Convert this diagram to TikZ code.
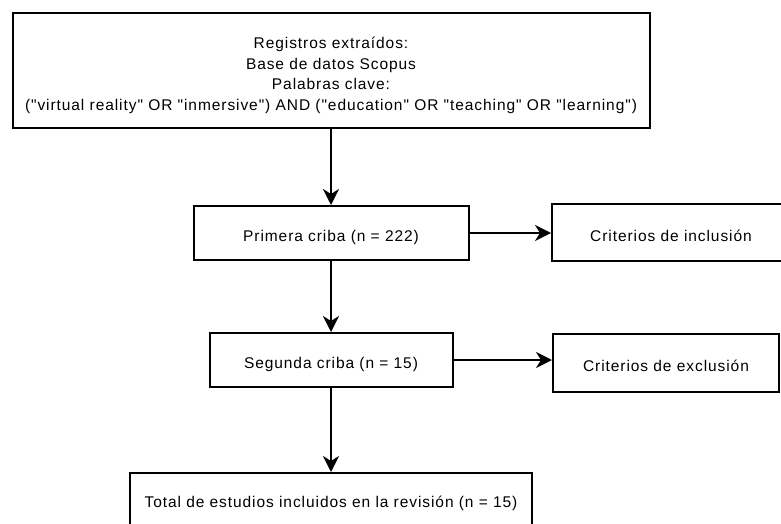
\documentclass[tikz,border=0pt]{standalone}
\usepackage{fontspec}
\setmainfont[LetterSpace=6,Ligatures=TeXOff]{Liberation Sans}
\usetikzlibrary{arrows.meta}
\begin{document}
\begin{tikzpicture}[x=1pt,y=-1pt,
    caja/.style={draw,line width=2pt,inner sep=0pt,align=center,
        font=\fontsize{15.5}{20.5}\selectfont},
    simple/.style={caja,text height=20pt,text depth=3pt},
    flecha/.style={line width=2pt,-{Stealth[length=16pt,width=16pt,inset=5pt]}}]
\clip (0,0) rectangle (781,524);
\node[caja,minimum width=637pt,minimum height=115pt] (registros) at (331,70.5)
    {\rule{0pt}{21pt}Registros extraídos:\\Base de datos Scopus\\Palabras clave:\\
     ("virtual reality" OR "inmersive") AND ("education" OR "teaching" OR "learning")};
\node[simple,minimum width=275pt,minimum height=54pt] (primera) at (331,233) {Primera criba (n = 222)};
\node[simple,minimum width=238pt,minimum height=57pt] (inclusion) at (671,232.5) {Criterios de inclusión};
\node[simple,minimum width=243pt,minimum height=54pt] (segunda) at (331,360) {Segunda criba (n = 15)};
\node[simple,minimum width=226pt,minimum height=58pt] (exclusion) at (666,363) {Criterios de exclusión};
\node[caja,minimum width=402pt,minimum height=60pt] (total) at (331,503) {Total de estudios incluidos en la revisión (n = 15)};
\draw[flecha] (registros.south) -- (primera.north);
\draw[flecha] (primera.south) -- (segunda.north);
\draw[flecha] (segunda.south) -- (total.north);
\draw[flecha] (primera.east) -- (primera.east -| inclusion.west);
\draw[flecha] (segunda.east) -- (segunda.east -| exclusion.west);
\end{tikzpicture}
\end{document}
